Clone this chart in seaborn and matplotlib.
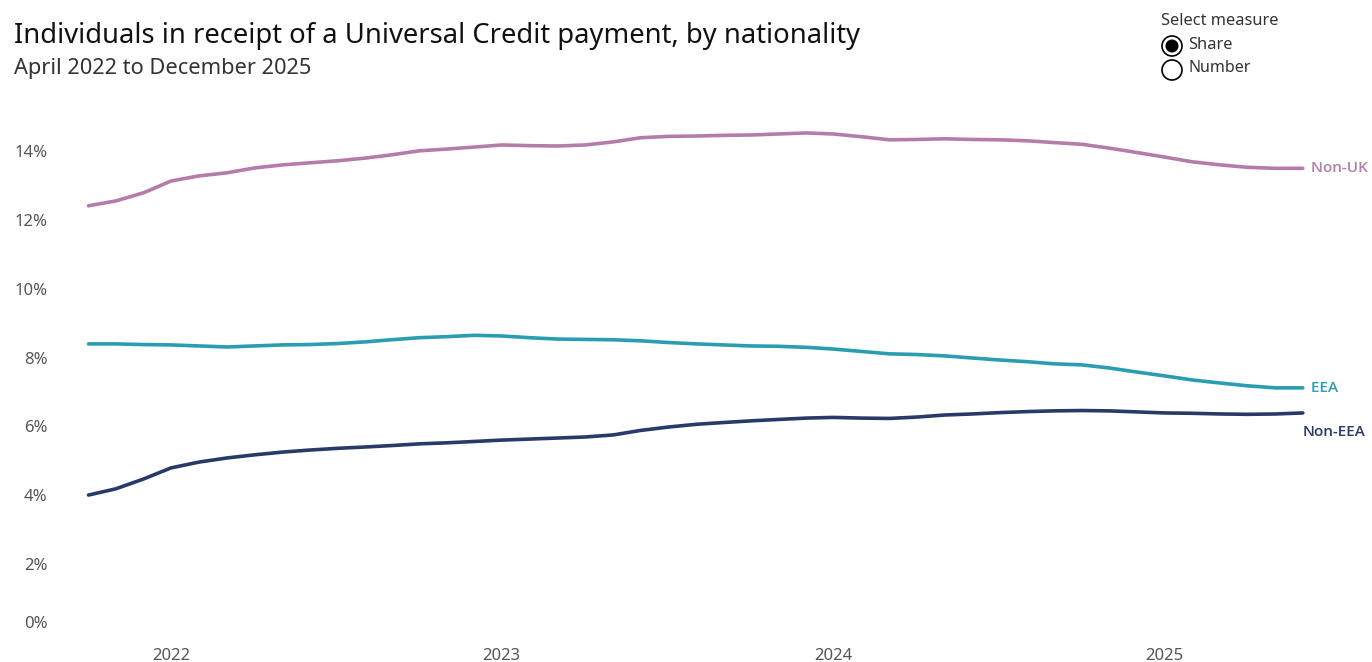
import numpy as np
import pandas as pd
import matplotlib
matplotlib.use("Agg")
import matplotlib.pyplot as plt
import matplotlib.dates as mdates
from matplotlib.patches import Circle
import seaborn as sns

# monthly share of UC recipients, April 2022 to December 2025
months = pd.date_range("2022-04-01", "2025-12-01", freq="MS")

non_uk = [12.42, 12.56, 12.80, 13.14, 13.29, 13.38, 13.52, 13.61, 13.67, 13.73,
          13.81, 13.90, 14.02, 14.07, 14.13, 14.19, 14.17, 14.16, 14.19, 14.28,
          14.40, 14.44, 14.45, 14.47, 14.48, 14.51, 14.54, 14.51, 14.43, 14.34,
          14.35, 14.37, 14.35, 14.34, 14.31, 14.26, 14.21, 14.10, 13.97, 13.84,
          13.70, 13.61, 13.54, 13.51, 13.51]
eea = [8.40, 8.40, 8.38, 8.37, 8.34, 8.31, 8.34, 8.37, 8.38, 8.41,
       8.46, 8.52, 8.58, 8.61, 8.65, 8.63, 8.58, 8.54, 8.53, 8.52,
       8.49, 8.44, 8.40, 8.37, 8.34, 8.33, 8.30, 8.25, 8.18, 8.11,
       8.09, 8.05, 7.99, 7.93, 7.88, 7.82, 7.79, 7.70, 7.58, 7.47,
       7.35, 7.26, 7.18, 7.12, 7.12]
non_eea = [4.00, 4.18, 4.47, 4.79, 4.96, 5.08, 5.17, 5.25, 5.31, 5.36,
           5.40, 5.44, 5.49, 5.52, 5.56, 5.60, 5.63, 5.66, 5.69, 5.75,
           5.88, 5.98, 6.06, 6.11, 6.16, 6.20, 6.24, 6.26, 6.24, 6.23,
           6.27, 6.33, 6.36, 6.40, 6.43, 6.45, 6.46, 6.45, 6.42, 6.39,
           6.38, 6.36, 6.35, 6.36, 6.39]

groups = ["Non-UK", "EEA", "Non-EEA"]
colours = {"Non-UK": "#b47da9", "EEA": "#2a9db2", "Non-EEA": "#283a68"}
year_ticks = pd.to_datetime(["2022-07-01", "2023-07-01", "2024-07-01", "2025-07-01"])
year_labels = ["2022", "2023", "2024", "2025"]
y_ticks = [0, 2, 4, 6, 8, 10, 12, 14]

df = pd.concat([
    pd.DataFrame({"month": months, "share": non_uk, "group": "Non-UK"}),
    pd.DataFrame({"month": months, "share": eea, "group": "EEA"}),
    pd.DataFrame({"month": months, "share": non_eea, "group": "Non-EEA"}),
])

sns.set_theme(style="white")
plt.rcParams["font.family"] = ["Noto Sans", "DejaVu Sans"]

fig = plt.figure(figsize=(13.72, 6.62), dpi=100)
ax = fig.add_axes([0.0437, 0.0446, 0.9111, 0.8044])

sns.lineplot(data=df, x="month", y="share", hue="group", hue_order=groups,
             palette=colours, linewidth=2.6, legend=False, ax=ax)

# axis ranges so years sit in the middle of their band
mid = mdates.date2num(pd.Timestamp("2022-07-01"))
ax.set_xlim(mid - 122.5, mid + 1256.9)
ax.set_ylim(0, 15.5)

ax.set_xticks(year_ticks)
ax.set_xticklabels(year_labels)
ax.set_yticks(y_ticks)
ax.set_yticklabels([f"{v}%" for v in y_ticks])
ax.tick_params(axis="both", length=0, labelsize=12, labelcolor="#555555")
ax.tick_params(axis="x", pad=11.5)
ax.tick_params(axis="y", pad=9)
for lab in ax.get_yticklabels():
    if lab.get_text() == "0%":
        lab.set_va("bottom")
ax.set_xlabel("")
ax.set_ylabel("")
sns.despine(ax=ax, left=True, bottom=True)

# end-of-line labels
last = months[-1]
lab_font = dict(family=["Open Sans", "DejaVu Sans"], fontsize=11, fontweight="semibold",
                va="center", ha="left", clip_on=False)
ax.text(last, non_uk[-1], "  Non-UK", color=colours["Non-UK"], **lab_font)
ax.text(last, eea[-1], "  EEA", color=colours["EEA"], **lab_font)
ax.text(last, non_eea[-1] - 0.55, "Non-EEA", color=colours["Non-EEA"], **lab_font)

# title block
fig.text(0.0102, 0.945, "Individuals in receipt of a Universal Credit payment, by nationality",
         fontsize=19.7, color="#111111", va="center", ha="left")
fig.text(0.0102, 0.896, "April 2022 to December 2025",
         fontsize=15.7, color="#333333", va="center", ha="left")

# "Select measure" radio control
ov = fig.add_axes([0, 0, 1, 1], zorder=5)
ov.set_xlim(0, 1372)
ov.set_ylim(662, 0)
ov.axis("off")
ov.patch.set_alpha(0)
ov.text(1161, 21, "Select measure", fontsize=11.8, color="#333333", va="center", ha="left")
ov.add_patch(Circle((1172, 46), 10, facecolor="white", edgecolor="black", lw=1.2))
ov.add_patch(Circle((1172, 46), 6.5, facecolor="black", edgecolor="none"))
ov.add_patch(Circle((1172, 70), 10, facecolor="white", edgecolor="black", lw=1.2))
ov.text(1188, 45, "Share", fontsize=11.8, color="#333333", va="center", ha="left")
ov.text(1188, 68, "Number", fontsize=11.5, color="#333333", va="center", ha="left")

fig.savefig("out.png", dpi=100)
